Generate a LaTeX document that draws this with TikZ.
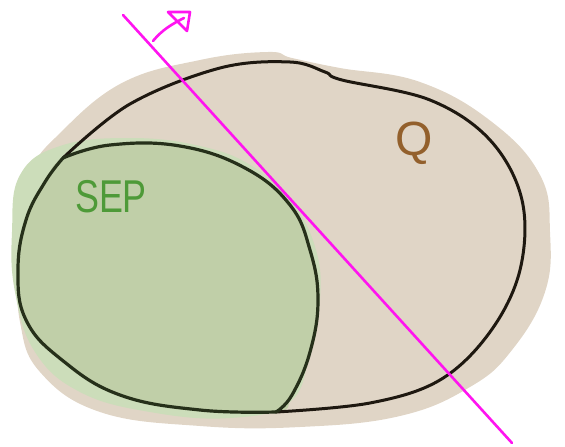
\documentclass[tikz,border=0pt]{standalone}
\usepackage{fontspec}
\setmainfont{Liberation Sans}
\begin{document}
\begin{tikzpicture}[x=1pt,y=-1pt,line cap=round,line join=round,
  outline/.style={draw=qline,line width=3pt},
  sepline/.style={draw=sline,line width=3.2pt},
  pinkline/.style={draw=pink1,line width=2.6pt}]
\definecolor{beige}{HTML}{E0D5C6}
\definecolor{lgreen}{HTML}{CCDDBA}
\definecolor{mgreen}{HTML}{C0CFA8}
\definecolor{sepgreen}{HTML}{4E9A38}
\definecolor{qbrown}{HTML}{93602C}
\definecolor{qline}{HTML}{1E1810}
\definecolor{sline}{HTML}{26301A}
\definecolor{pink1}{HTML}{FF14F0}
\useasboundingbox (0,0) rectangle (565,447);
% beige background blob
\fill[beige] plot[smooth cycle,tension=0.7] coordinates {(55,138) (120,84) (200,60) (268,52) (292,58) (340,68) (420,82) (492,122) (540,175) (550,232) (545,292) (512,350) (470,387) (400,416) (300,427) (200,426) (100,412) (40,372) (20,322) (18,262) (20,200) (32,168)};
% light green spill
\fill[lgreen] plot[smooth cycle,tension=0.7] coordinates {(20,175) (60,146) (130,138) (200,146) (252,166) (292,202) (316,250) (320,300) (310,352) (290,402) (230,418) (150,412) (80,392) (35,352) (15,292) (12,232)};
% green SEP fill
\fill[mgreen] plot[smooth cycle,tension=0.7] coordinates {(63,158) (110,145) (180,146) (245,168) (290,205) (310,250) (318,300) (310,352) (292,395) (276,412) (200,410) (120,395) (62,360) (26,320) (18,270) (26,220) (45,182)};
% Q outline
\draw[outline] plot[smooth,tension=0.6] coordinates {(63,158) (130,104) (220,68) (290,62) (325,72) (342,80) (430,100) (490,140) (522,200) (520,270) (490,332) (440,380) (370,403) (276,412)};
% SEP outline
\draw[sepline] plot[smooth,tension=0.7] coordinates {(63,158) (110,145) (180,146) (245,168) (290,205) (310,250) (318,300) (310,352) (292,395) (276,412)};
\draw[sepline] plot[smooth,tension=0.7] coordinates {(276,412) (200,410) (120,395) (62,360) (26,320) (18,270) (26,220) (45,182) (63,158)};
% labels
\node[text=sepgreen,font=\fontsize{46}{46}\selectfont,xscale=0.78] (sep) at (111,197) {SEP};
\node[text=qbrown,font=\fontsize{48}{48}\selectfont] (q) at (414,143) {Q};
% cutting line and arrow
\coordinate (ltop) at (123,15);
\coordinate (lbot) at (512,443);
\draw[pinkline] (ltop) -- (lbot);
\coordinate (astart) at (153,41);
\coordinate (atip) at (184,18);
\draw[pinkline] (astart) .. controls (162,30) and (172,24) .. (atip);
\draw[pinkline] (168,12) -- (190,12) -- (187,31) -- cycle;
\end{tikzpicture}
\end{document}
